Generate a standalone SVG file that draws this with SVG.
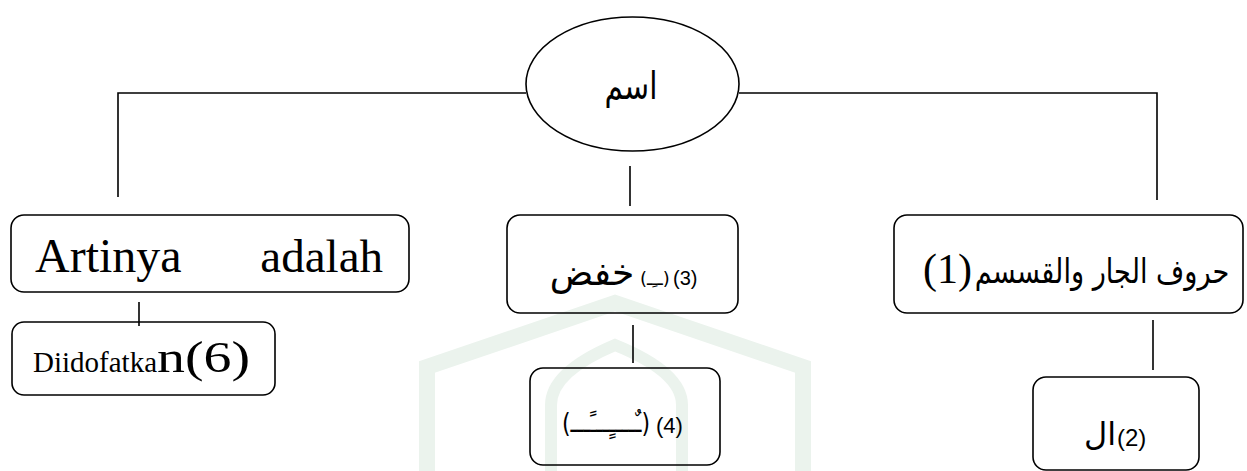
<svg xmlns="http://www.w3.org/2000/svg" width="1247" height="471" viewBox="0 0 1247 471">
<style>
.box{fill:none;stroke:#000;stroke-width:1.6}
.ln{fill:none;stroke:#000;stroke-width:1.6}
.ser{font-family:"Liberation Serif","Times New Roman",serif;fill:#000}
.san{font-family:"Liberation Sans",Arial,sans-serif;fill:#000}
.ar{font-family:"DejaVu Sans","Noto Sans",sans-serif;fill:#000}
.wm{fill:none;stroke:#ebf3ed;stroke-linejoin:miter}
</style>
<rect width="1247" height="471" fill="#fff"/>
<g id="watermark">
<path class="wm" stroke-width="16" d="M427,471 V367 L615,303 L803,367 V471"/>
<path class="wm" stroke-width="12" stroke="#e6f0e9" d="M551,471 V405 Q551,372 615,345 Q682,372 682,405 V471"/>
</g>
<g id="connectors">
<path class="ln" d="M118,197 V93 H526 M739,93 H1157 V200"/>
<path class="ln" d="M630,166 V206"/>
<path class="ln" d="M139,302 V326"/>
<path class="ln" d="M633,325 V363"/>
<path class="ln" d="M1153,320 V370"/>
</g>
<g id="node-ism">
<ellipse class="box" cx="632.5" cy="84" rx="106.5" ry="67"/>
<text class="ar" font-size="38" text-anchor="middle" transform="translate(631,99) scale(0.78,1)">اسم</text>
</g>
<g id="node-artinya">
<rect class="box" x="11" y="215" width="398" height="77" rx="13"/>
<text class="ser" x="35" y="272" font-size="48">Artinya</text>
<text class="ser" x="383" y="272" font-size="47" text-anchor="end">adalah</text>
</g>
<g id="node-diidofatkan">
<rect class="box" x="12" y="322" width="263" height="73" rx="12"/>
<text class="ser" x="33" y="372" font-size="29" textLength="124" lengthAdjust="spacingAndGlyphs">Diidofatka</text>
<text class="ser" x="157" y="372" font-size="44" textLength="93" lengthAdjust="spacingAndGlyphs">n(6)</text>
</g>
<g id="node-khafd">
<rect class="box" x="507" y="215" width="231" height="98" rx="13"/>
<text class="ar" font-size="36" text-anchor="middle" transform="translate(592,285) scale(1.0,1)">خفض</text>
<text class="ar" x="640" y="285" font-size="18">(ــِـ)</text>
<text class="san" x="673" y="285" font-size="20">(3)</text>
</g>
<g id="node-tanwin">
<rect class="box" x="530" y="368" width="190" height="97" rx="13"/>
<text class="ar" x="562" y="432" font-size="26" textLength="88" lengthAdjust="spacingAndGlyphs">(ـٌــــٍـــًـــ)</text>
<text class="san" x="656" y="433" font-size="22">(4)</text>
</g>
<g id="node-huruf">
<rect class="box" x="894" y="215" width="349" height="98" rx="13"/>
<text class="ser" x="923" y="283" font-size="42">(1)</text>
<text class="ar" font-size="34" text-anchor="middle" transform="translate(1102,283) scale(0.8,1)">حروف الجار والقسسم</text>
</g>
<g id="node-al">
<rect class="box" x="1033" y="377" width="166" height="93" rx="13"/>
<text class="ar" x="1100" y="445" font-size="32" text-anchor="middle">ال</text>
<text class="san" x="1117" y="446" font-size="24">(2)</text>
</g>
</svg>
